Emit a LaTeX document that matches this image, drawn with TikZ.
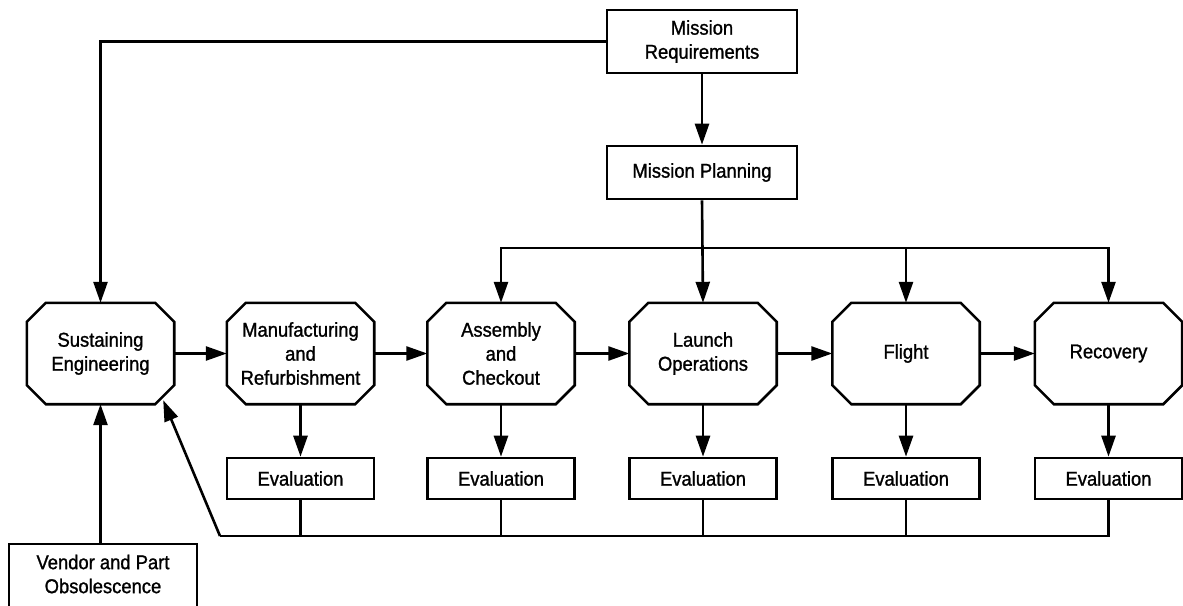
\documentclass[tikz,border=0pt]{standalone}
\usepackage{fontspec}
\setmainfont[FakeStretch=0.92, FakeBold=1.2]{Liberation Sans}
\usetikzlibrary{arrows.meta}
\tikzset{
  line/.style={line width=2.6pt, line join=miter},
  arr/.style={line, -{Triangle[length=21pt,width=14pt]}},
  txt/.style={font=\fontsize{20}{24}\selectfont, align=center},
  octo/.style={txt, rectangle, draw=none, minimum width=147pt, minimum height=101pt, inner sep=0pt},
  boxx/.style={txt, rectangle, draw, line width=2.6pt, inner sep=0pt},
  evalbox/.style={boxx, minimum width=147pt, minimum height=41pt}
}
\begin{document}
\begin{tikzpicture}[x=1pt, y=-1pt]
\useasboundingbox (0,0) rectangle (1183,605);
\clip (0,0) rectangle (1183,605);

% top boxes
\node[boxx, minimum width=190pt, minimum height=63pt] (mr) at (702,41.5) {Mission\\Requirements};
\node[boxx, minimum width=190pt, minimum height=53pt] (mp) at (702,172.5) {Mission Planning};

% main process octagons
\node[octo] (se) at (100.5,353.5) {Sustaining\\Engineering};
\node[octo] (mf) at (300.5,353.5) {Manufacturing\\and\\Refurbishment};
\node[octo] (ac) at (501,353.5) {Assembly\\and\\Checkout};
\node[octo] (lo) at (703,353.5) {Launch\\Operations};
\node[octo] (fl) at (906,353.5) {Flight};
\node[octo] (rc) at (1108.5,353.5) {Recovery};

\foreach \n in {se,mf,ac,lo,fl,rc}{
  \draw[line] ([xshift=19pt]\n.north west) -- ([xshift=-19pt]\n.north east)
    -- ([yshift=-19pt]\n.north east) -- ([yshift=19pt]\n.south east)
    -- ([xshift=-19pt]\n.south east) -- ([xshift=19pt]\n.south west)
    -- ([yshift=19pt]\n.south west) -- ([yshift=-19pt]\n.north west) -- cycle;
}

% evaluation boxes
\node[evalbox] (e1) at (300.5,478.5) {Evaluation};
\node[evalbox] (e2) at (501,478.5) {Evaluation};
\node[evalbox] (e3) at (703,478.5) {Evaluation};
\node[evalbox] (e4) at (906,478.5) {Evaluation};
\node[evalbox] (e5) at (1108.5,478.5) {Evaluation};

% vendor box (runs off the bottom edge)
\node[boxx, minimum width=188pt, minimum height=76pt,
      label={[txt, yshift=8pt]center:Vendor and Part\\Obsolescence}] (vd) at (103,582) {};

% connectors
\draw[arr] (mr.west) -| (se.north);
\draw[arr] (mr.south) -- (mp.north);
\coordinate (bus) at (702,248);
\draw[arr] (mp.south) -- (lo.north);
\draw[arr] (bus) -| (ac.north);
\draw[arr] (bus) -| (fl.north);
\draw[arr] (bus) -| (rc.north);

\draw[arr] (se.east) -- (mf.west);
\draw[arr] (mf.east) -- (ac.west);
\draw[arr] (ac.east) -- (lo.west);
\draw[arr] (lo.east) -- (fl.west);
\draw[arr] (fl.east) -- (rc.west);

\draw[arr] (mf.south) -- (e1.north);
\draw[arr] (ac.south) -- (e2.north);
\draw[arr] (lo.south) -- (e3.north);
\draw[arr] (fl.south) -- (e4.north);
\draw[arr] (rc.south) -- (e5.north);

\coordinate (fb) at (220,536);
\draw[line] (e5.south) -- (e5.south |- fb) -- (fb);
\draw[line] (e1.south) -- (e1.south |- fb);
\draw[line] (e2.south) -- (e2.south |- fb);
\draw[line] (e3.south) -- (e3.south |- fb);
\draw[line] (e4.south) -- (e4.south |- fb);
\draw[arr] (fb) -- ([xshift=-11pt,yshift=4pt]se.south east);

\draw[arr] (vd.north -| se.south) -- (se.south);
\end{tikzpicture}
\end{document}
